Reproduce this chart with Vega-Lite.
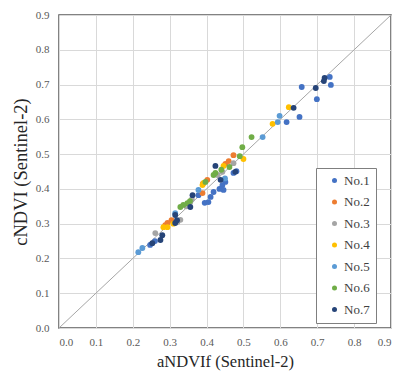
{
  "$schema": "https://vega.github.io/schema/vega-lite/v6.json",
  "width": 332,
  "height": 313,
  "autosize": {"type": "none"},
  "padding": {"left": 59, "top": 15, "right": 10, "bottom": 43},
  "background": "white",
  "config": {
    "view": {"stroke": "#595959", "strokeWidth": 1.5},
    "font": "Liberation Serif",
    "axis": {"labelFont": "Liberation Serif", "titleFont": "Liberation Serif"},
    "legend": {"labelFont": "Liberation Serif"}
  },
  "datasets": {
    "pts": [
      {"x": 0.658, "y": 0.693, "s": "No.1"}, {"x": 0.734, "y": 0.722, "s": "No.1"}, {"x": 0.737, "y": 0.699, "s": "No.1"},
      {"x": 0.699, "y": 0.658, "s": "No.1"}, {"x": 0.617, "y": 0.592, "s": "No.1"}, {"x": 0.652, "y": 0.607, "s": "No.1"},
      {"x": 0.481, "y": 0.451, "s": "No.1"}, {"x": 0.473, "y": 0.446, "s": "No.1"}, {"x": 0.451, "y": 0.42, "s": "No.1"},
      {"x": 0.443, "y": 0.411, "s": "No.1"}, {"x": 0.435, "y": 0.4, "s": "No.1"}, {"x": 0.419, "y": 0.391, "s": "No.1"},
      {"x": 0.446, "y": 0.397, "s": "No.1"}, {"x": 0.378, "y": 0.382, "s": "No.1"}, {"x": 0.411, "y": 0.377, "s": "No.1"},
      {"x": 0.405, "y": 0.362, "s": "No.1"}, {"x": 0.247, "y": 0.239, "s": "No.1"}, {"x": 0.26, "y": 0.25, "s": "No.1"},
      {"x": 0.395, "y": 0.36, "s": "No.1"},
      {"x": 0.473, "y": 0.497, "s": "No.2"}, {"x": 0.451, "y": 0.472, "s": "No.2"}, {"x": 0.402, "y": 0.426, "s": "No.2"},
      {"x": 0.389, "y": 0.388, "s": "No.2"}, {"x": 0.294, "y": 0.302, "s": "No.2"}, {"x": 0.288, "y": 0.296, "s": "No.2"},
      {"x": 0.39, "y": 0.415, "s": "No.2"}, {"x": 0.46, "y": 0.48, "s": "No.2"}, {"x": 0.305, "y": 0.31, "s": "No.2"},
      {"x": 0.473, "y": 0.474, "s": "No.3"}, {"x": 0.443, "y": 0.449, "s": "No.3"}, {"x": 0.356, "y": 0.362, "s": "No.3"},
      {"x": 0.329, "y": 0.311, "s": "No.3"}, {"x": 0.321, "y": 0.305, "s": "No.3"}, {"x": 0.261, "y": 0.273, "s": "No.3"},
      {"x": 0.345, "y": 0.35, "s": "No.3"}, {"x": 0.43, "y": 0.44, "s": "No.3"}, {"x": 0.36, "y": 0.37, "s": "No.3"},
      {"x": 0.623, "y": 0.635, "s": "No.4"}, {"x": 0.579, "y": 0.587, "s": "No.4"}, {"x": 0.5, "y": 0.486, "s": "No.4"},
      {"x": 0.446, "y": 0.466, "s": "No.4"}, {"x": 0.392, "y": 0.417, "s": "No.4"}, {"x": 0.389, "y": 0.411, "s": "No.4"},
      {"x": 0.283, "y": 0.29, "s": "No.4"}, {"x": 0.294, "y": 0.29, "s": "No.4"}, {"x": 0.31, "y": 0.3, "s": "No.4"},
      {"x": 0.598, "y": 0.61, "s": "No.5"}, {"x": 0.593, "y": 0.592, "s": "No.5"}, {"x": 0.552, "y": 0.549, "s": "No.5"},
      {"x": 0.378, "y": 0.397, "s": "No.5"}, {"x": 0.315, "y": 0.33, "s": "No.5"}, {"x": 0.226, "y": 0.23, "s": "No.5"},
      {"x": 0.215, "y": 0.218, "s": "No.5"}, {"x": 0.45, "y": 0.43, "s": "No.5"},
      {"x": 0.522, "y": 0.549, "s": "No.6"}, {"x": 0.497, "y": 0.52, "s": "No.6"}, {"x": 0.49, "y": 0.494, "s": "No.6"},
      {"x": 0.462, "y": 0.463, "s": "No.6"}, {"x": 0.424, "y": 0.446, "s": "No.6"}, {"x": 0.419, "y": 0.44, "s": "No.6"},
      {"x": 0.397, "y": 0.42, "s": "No.6"}, {"x": 0.348, "y": 0.359, "s": "No.6"}, {"x": 0.337, "y": 0.354, "s": "No.6"},
      {"x": 0.329, "y": 0.348, "s": "No.6"}, {"x": 0.355, "y": 0.365, "s": "No.6"}, {"x": 0.44, "y": 0.455, "s": "No.6"},
      {"x": 0.696, "y": 0.69, "s": "No.7"}, {"x": 0.72, "y": 0.719, "s": "No.7"}, {"x": 0.718, "y": 0.71, "s": "No.7"},
      {"x": 0.636, "y": 0.633, "s": "No.7"}, {"x": 0.424, "y": 0.466, "s": "No.7"}, {"x": 0.438, "y": 0.426, "s": "No.7"},
      {"x": 0.478, "y": 0.449, "s": "No.7"}, {"x": 0.362, "y": 0.382, "s": "No.7"}, {"x": 0.356, "y": 0.348, "s": "No.7"},
      {"x": 0.315, "y": 0.325, "s": "No.7"}, {"x": 0.315, "y": 0.302, "s": "No.7"}, {"x": 0.28, "y": 0.267, "s": "No.7"},
      {"x": 0.275, "y": 0.253, "s": "No.7"}, {"x": 0.253, "y": 0.244, "s": "No.7"}, {"x": 0.32, "y": 0.31, "s": "No.7"}
    ],
    "diag": [{"x": 0, "y": 0}, {"x": 0.9, "y": 0.9}]
  },
  "encoding": {
    "x": {"field": "x", "type": "quantitative", "scale": {"domain": [0, 0.9], "nice": false},
      "axis": {"values": [0, 0.1, 0.2, 0.3, 0.4, 0.5, 0.6, 0.7, 0.8, 0.9], "format": ".1f", "title": "aNDVIf (Sentinel-2)",
        "grid": true, "gridColor": "#d9d9d9", "ticks": false, "domain": false, "labelOverlap": false, "labelFont": "Liberation Serif", "labelFontSize": 11,
        "labelColor": "#595959", "labelPadding": 8, "titleFont": "Liberation Serif", "titleFontSize": 16.5, "titleFontWeight": "normal",
        "titleColor": "#262626", "titlePadding": 6}},
    "y": {"field": "y", "type": "quantitative", "scale": {"domain": [0, 0.9], "nice": false},
      "axis": {"values": [0, 0.1, 0.2, 0.3, 0.4, 0.5, 0.6, 0.7, 0.8, 0.9], "format": ".1f", "title": "cNDVI (Sentinel-2)",
        "grid": true, "gridColor": "#d9d9d9", "ticks": false, "domain": false, "labelOverlap": false, "labelFont": "Liberation Serif", "labelFontSize": 11,
        "labelColor": "#595959", "labelPadding": 10, "titleFont": "Liberation Serif", "titleFontSize": 18.5, "titleFontWeight": "normal",
        "titleColor": "#262626", "titlePadding": 5}}
  },
  "layer": [
    {
      "data": {"name": "diag"},
      "mark": {"type": "line", "color": "#a6a6a6", "strokeWidth": 1}
    },
    {
      "data": {"name": "pts"},
      "mark": {"type": "circle", "size": 34, "opacity": 1},
      "encoding": {
        "color": {"field": "s", "type": "nominal",
          "scale": {"domain": ["No.1", "No.2", "No.3", "No.4", "No.5", "No.6", "No.7"],
            "range": ["#4472C4", "#ED7D31", "#A5A5A5", "#FFC000", "#5B9BD5", "#70AD47", "#264478"]},
          "legend": {"title": null, "orient": "none", "legendX": 257, "legendY": 153, "fillColor": "white", "strokeColor": "#7f7f7f",
            "padding": 6, "rowPadding": 7.5, "symbolSize": 25, "symbolType": "circle", "labelFont": "Liberation Serif", "labelFontSize": 13,
            "labelColor": "#404040", "symbolOffset": 6, "labelOffset": 3}}
      }
    }
  ]
}
